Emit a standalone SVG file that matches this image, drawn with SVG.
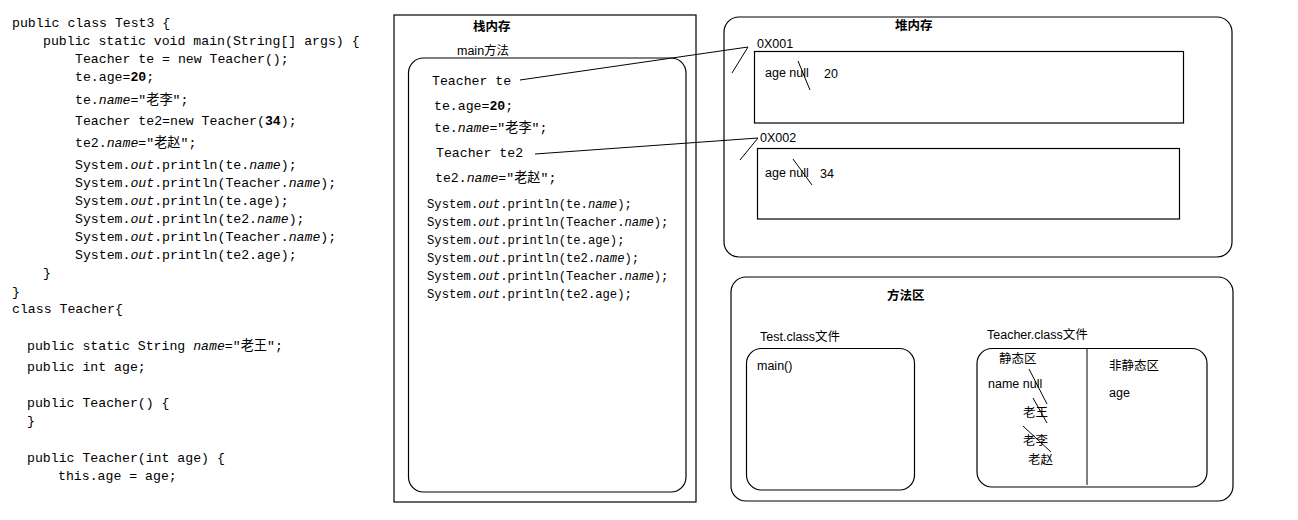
<svg xmlns="http://www.w3.org/2000/svg" width="1298" height="520" viewBox="0 0 1298 520">
<style>
.code{font-family:"Liberation Mono","DejaVu Sans Mono","Noto Sans CJK SC",monospace;font-size:13.2px;fill:#000}
.code2{font-family:"Liberation Mono","DejaVu Sans Mono","Noto Sans CJK SC",monospace;font-size:12.2px;fill:#000}
.lbl{font-family:"Liberation Sans","Noto Sans CJK SC",sans-serif;font-size:12.5px;fill:#000}
.ttl{font-family:"Liberation Sans","Noto Sans CJK SC",sans-serif;font-size:12.5px;font-weight:bold;fill:#000}
.box{fill:none;stroke:#000;stroke-width:1.2}
.ln{fill:none;stroke:#000;stroke-width:1}
.i{font-style:italic}
.b{font-weight:bold}
</style>
<rect width="1298" height="520" fill="#fff"/>
<g id="source-code">
<text class="code" x="12" y="27">public class Test3 {</text>
<text class="code" x="43" y="45">public static void main(String[] args) {</text>
<text class="code" x="75" y="63">Teacher te = new Teacher();</text>
<text class="code" x="75" y="81">te.age=<tspan class="b">20</tspan>;</text>
<text class="code" x="75" y="104">te.<tspan class="i">name</tspan>="老李";</text>
<text class="code" x="75" y="125">Teacher te2=new Teacher(<tspan class="b">34</tspan>);</text>
<text class="code" x="75" y="147">te2.<tspan class="i">name</tspan>="老赵";</text>
<text class="code" x="75" y="169">System.<tspan class="i">out</tspan>.println(te.<tspan class="i">name</tspan>);</text>
<text class="code" x="75" y="187">System.<tspan class="i">out</tspan>.println(Teacher.<tspan class="i">name</tspan>);</text>
<text class="code" x="75" y="205">System.<tspan class="i">out</tspan>.println(te.age);</text>
<text class="code" x="75" y="223">System.<tspan class="i">out</tspan>.println(te2.<tspan class="i">name</tspan>);</text>
<text class="code" x="75" y="241">System.<tspan class="i">out</tspan>.println(Teacher.<tspan class="i">name</tspan>);</text>
<text class="code" x="75" y="259">System.<tspan class="i">out</tspan>.println(te2.age);</text>
<text class="code" x="43" y="277">}</text>
<text class="code" x="12" y="296">}</text>
<text class="code" x="12" y="313">class Teacher{</text>
<text class="code" x="27" y="350">public static String <tspan class="i">name</tspan>="老王";</text>
<text class="code" x="27" y="371">public int age;</text>
<text class="code" x="27" y="407">public Teacher() {</text>
<text class="code" x="27" y="425">}</text>
<text class="code" x="27" y="462">public Teacher(int age) {</text>
<text class="code" x="58" y="480">this.age = age;</text>
</g>
<g id="stack">
<rect class="box" x="394" y="15" width="302" height="487"/>
<text class="ttl" x="473" y="31">栈内存</text>
<text class="lbl" x="457" y="55">main方法</text>
<rect class="box" x="408.5" y="58" width="277.5" height="434" rx="15"/>
<text class="code" x="432" y="85">Teacher te</text>
<text class="code" x="434" y="110">te.age=<tspan class="b">20</tspan>;</text>
<text class="code" x="434" y="132">te.<tspan class="i">name</tspan>="老李";</text>
<text class="code" x="436" y="157">Teacher te2</text>
<text class="code" x="435" y="182">te2.<tspan class="i">name</tspan>="老赵";</text>
<text class="code2" x="427" y="208">System.<tspan class="i">out</tspan>.println(te.<tspan class="i">name</tspan>);</text>
<text class="code2" x="427" y="226">System.<tspan class="i">out</tspan>.println(Teacher.<tspan class="i">name</tspan>);</text>
<text class="code2" x="427" y="244">System.<tspan class="i">out</tspan>.println(te.age);</text>
<text class="code2" x="427" y="262">System.<tspan class="i">out</tspan>.println(te2.<tspan class="i">name</tspan>);</text>
<text class="code2" x="427" y="280">System.<tspan class="i">out</tspan>.println(Teacher.<tspan class="i">name</tspan>);</text>
<text class="code2" x="427" y="298">System.<tspan class="i">out</tspan>.println(te2.age);</text>
</g>
<g id="heap">
<rect class="box" x="724" y="17" width="508" height="240" rx="15"/>
<text class="ttl" x="895" y="30">堆内存</text>
<g id="obj1">
<text class="lbl" x="757" y="48">0X001</text>
<rect class="box" x="754.5" y="51.5" width="429" height="71.5"/>
<text class="lbl" x="765" y="77">age null</text>
<text class="lbl" x="824" y="78">20</text>
<line class="ln" x1="798" y1="61" x2="810" y2="90"/>
</g>
<g id="obj2">
<text class="lbl" x="760" y="142">0X002</text>
<rect class="box" x="757.5" y="148.5" width="422" height="70.5"/>
<text class="lbl" x="765" y="177">age null</text>
<text class="lbl" x="820" y="178">34</text>
<line class="ln" x1="793" y1="159" x2="812" y2="185"/>
</g>
</g>
<g id="method-area">
<rect class="box" x="731" y="277" width="502" height="224" rx="15"/>
<text class="ttl" x="887" y="300">方法区</text>
<g id="test-class">
<text class="lbl" x="760" y="341">Test.class文件</text>
<rect class="box" x="746.5" y="348.5" width="168" height="141.5" rx="15"/>
<text class="lbl" x="757" y="370">main()</text>
</g>
<g id="teacher-class">
<text class="lbl" x="987" y="339">Teacher.class文件</text>
<rect class="box" x="977" y="348.5" width="230" height="138.5" rx="15"/>
<line class="ln" x1="1087" y1="348.5" x2="1087" y2="485"/>
<text class="lbl" x="999" y="363">静态区</text>
<text class="lbl" x="1109" y="370">非静态区</text>
<text class="lbl" x="988" y="388">name null</text>
<text class="lbl" x="1109" y="397">age</text>
<text class="lbl" x="1023" y="417">老王</text>
<text class="lbl" x="1023" y="445">老李</text>
<text class="lbl" x="1028" y="464">老赵</text>
<line class="ln" x1="1029" y1="369" x2="1047" y2="404"/>
<line class="ln" x1="1033" y1="398" x2="1047" y2="423"/>
<line class="ln" x1="1023" y1="426" x2="1051" y2="452"/>
</g>
</g>
<g id="connectors">
<polyline class="ln" points="520,80 748,47 732,73"/>
<polyline class="ln" points="535,154 758,138 740,160"/>
</g>
</svg>
